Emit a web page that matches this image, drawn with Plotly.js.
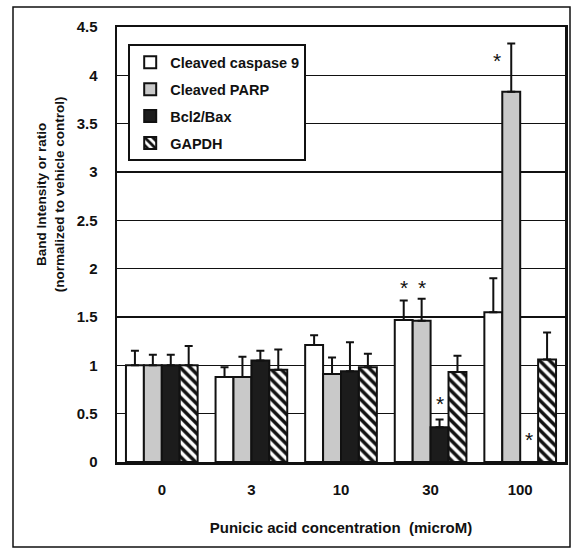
<!DOCTYPE html>
<html>
<head>
<meta charset="utf-8">
<script src="https://cdn.plot.ly/plotly-3.0.1.min.js"></script>
<style>html,body{margin:0;padding:0;background:#fff;}#chart{width:574px;height:548px;}</style>
</head>
<body>
<div id="chart"></div>
<script>
// ---- data ----
var categories = ["0", "3", "10", "30", "100"];
var seriesNames = ["Cleaved caspase 9", "Cleaved PARP", "Bcl2/Bax", "GAPDH"];
var caspase9 = [1.0, 0.88, 1.21, 1.47, 1.55];
var caspase9Err = [0.15, 0.10, 0.10, 0.20, 0.35];
var parp = [1.0, 0.88, 0.91, 1.46, 3.83];
var parpErr = [0.11, 0.21, 0.17, 0.23, 0.50];
var bcl2bax = [1.0, 1.05, 0.94, 0.36, 0.0];
var bcl2baxErr = [0.11, 0.10, 0.30, 0.08, 0.0];
var gapdh = [1.0, 0.955, 0.98, 0.93, 1.06];
var gapdhErr = [0.20, 0.21, 0.14, 0.17, 0.28];
// significance stars: y level of the star, null = none
var caspase9Star = [null, null, null, 1.85, null];
var parpStar = [null, null, null, 1.85, 4.2];
var bcl2baxStar = [null, null, null, 0.645, 0.27];
var gapdhStar = [null, null, null, null, null];

var values = [caspase9, parp, bcl2bax, gapdh];
var errs = [caspase9Err, parpErr, bcl2baxErr, gapdhErr];
var stars = [caspase9Star, parpStar, bcl2baxStar, gapdhStar];

var fills = ["#ffffff", "#c9c9c9", "#1c1c1c", "#ffffff"];
var FONT = "Liberation Sans, Arial, sans-serif";
var bargap = 0.2;
var nS = seriesNames.length;
var bw = (1 - bargap) / nS;
var idx = categories.map(function(c, i){ return i; });

var traces = [];
for (var s = 0; s < nS; s++) {
  var t = {
    type: "bar",
    name: seriesNames[s],
    x: idx,
    y: values[s],
    legendgroup: "g" + s,
    marker: {
      color: fills[s],
      line: {color: "#111", width: 2}
    },
    error_y: {
      type: "data", symmetric: false,
      array: errs[s],
      arrayminus: values[s].map(function(){ return 0; }),
      color: "#111", thickness: 2, width: 4
    },
    hoverinfo: "skip"
  };
  if (s === 3) {
    t.marker.pattern = {shape: "\\", fgcolor: "#111", bgcolor: "#ffffff", size: 7, solidity: 0.5, fillmode: "replace"};
  }
  traces.push(t);
}

var annotations = [];
for (var s2 = 0; s2 < nS; s2++) {
  var off = -(1 - bargap) / 2 + bw * (s2 + 0.5);
  stars[s2].forEach(function(v, i){
    if (v === null) return;
    var isTallBar = values[s2][i] > 3;
    annotations.push({
      x: i + off, y: v, xref: "x", yref: "y",
      text: "*", showarrow: false,
      xshift: isTallBar ? -14 : 0,
      yshift: -4,
      font: {family: FONT, size: 21, color: "#111"}
    });
  });
}
// y-axis title (two lines)
annotations.push({
  xref: "paper", yref: "paper", x: -0.148, y: 0.615,
  xanchor: "center", yanchor: "middle",
  text: "<b>Band Intensity or ratio<br>(normalized to vehicle control)</b>",
  textangle: -90, showarrow: false,
  font: {family: FONT, size: 13.5, color: "#111"}
});

var layout = {
  width: 574, height: 548,
  margin: {l: 117, r: 9, t: 27, b: 86},
  paper_bgcolor: "#fff", plot_bgcolor: "#fff",
  barmode: "group", bargap: bargap, bargroupgap: 0,
  font: {family: FONT, color: "#111"},
  showlegend: true,
  legend: {
    x: 0.025, y: 0.96, xanchor: "left", yanchor: "top",
    bgcolor: "#fff", bordercolor: "#111", borderwidth: 2,
    font: {family: FONT, size: 14.5, color: "#111", weight: "bold"},
    traceorder: "grouped", tracegroupgap: 5,
    itemwidth: 30
  },
  xaxis: {
    tickmode: "array", tickvals: idx, ticktext: categories,
    range: [-0.5, categories.length - 0.5],
    showline: true, linecolor: "#111", linewidth: 2.5, mirror: true,
    ticks: "", showgrid: false, zeroline: false,
    tickfont: {family: FONT, size: 15, color: "#111", weight: "bold"},
    ticklabelstandoff: 12,
    title: {text: "<b>Punicic acid concentration  (microM)</b>", font: {family: FONT, size: 15, color: "#111"}, standoff: 26}
  },
  yaxis: {
    range: [0, 4.5], dtick: 0.5, tick0: 0,
    showline: true, linecolor: "#111", linewidth: 2.5, mirror: true,
    showgrid: true, gridcolor: "#111", gridwidth: 1.5,
    zeroline: false, ticks: "",
    tickfont: {family: FONT, size: 15, color: "#111", weight: "bold"},
    ticklabelstandoff: 14
  },
  shapes: [{
    type: "rect", xref: "paper", yref: "paper",
    x0: -104/448, x1: 453/448, y0: -85/435, y1: 455/435,
    line: {color: "#111", width: 1.5}, fillcolor: "rgba(0,0,0,0)", layer: "below"
  }],
  annotations: annotations
};

Plotly.newPlot("chart", traces, layout, {staticPlot: true, displayModeBar: false});
</script>
</body>
</html>
